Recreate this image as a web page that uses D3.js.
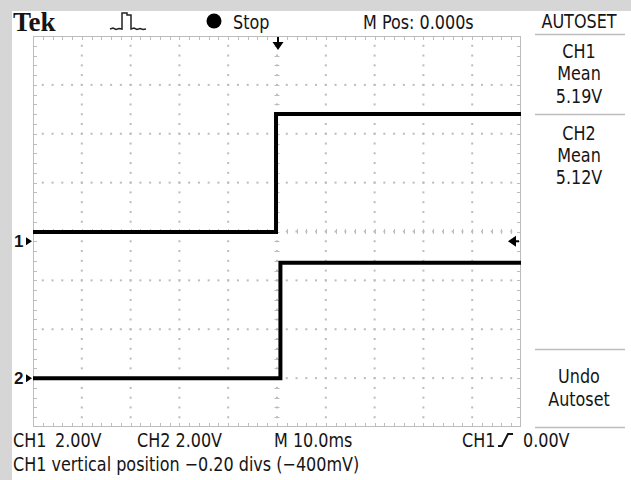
<!DOCTYPE html>
<html><head><meta charset="utf-8">
<script src="https://cdn.jsdelivr.net/npm/d3@7"></script>
<style>
html,body{margin:0;padding:0;background:#fff;}
svg{display:block;}
text{font-family:"DejaVu Sans",sans-serif;fill:#151515;}
</style></head><body>
<svg id="c" width="631" height="480"></svg>
<script>
// ---------- data ----------
const timeDomainMs = [-50, 50];            // 10 div x 10.0 ms, trigger at centre
const voltDivDomain = [-4, 4];             // 8 vertical divisions
const ch1Times = [-50, -0.2, -0.2, 50];    // ms
const ch1Volts = [0.38, 0.38, 5.21, 5.21]; // V
const ch2Times = [-50, 0.7, 0.7, 50];
const ch2Volts = [0.0, 0.0, 4.72, 4.72];
const chVoltsPerDiv = [2.0, 2.0];
const chPositionDiv = [-0.20, -3.0];
const triggerLevelV = 0.0;
const topLabels = ["Stop", "M Pos: 0.000s"];
const panelLabels = [["AUTOSET"], ["CH1", "Mean", "5.19V"], ["CH2", "Mean", "5.12V"], ["Undo", "Autoset"]];
const bottomLabels = ["CH1", "2.00V", "CH2 2.00V", "M 10.0ms", "CH1", "0.00V"];
const statusLine = "CH1 vertical position \u22120.20 divs (\u2212400mV)";

// ---------- layout ----------
const svg = d3.select("#c");
const gx0 = 33, gx1 = 521, gy0 = 36, gy1 = 427;
const x = d3.scaleLinear().domain(timeDomainMs).range([gx0, gx1]);
const yDiv = d3.scaleLinear().domain(voltDivDomain).range([gy1, gy0]);
const yCh = i => v => yDiv(v / chVoltsPerDiv[i] + chPositionDiv[i]);
const divW = (gx1 - gx0) / 10, divH = (gy1 - gy0) / 8;
const cond = 0.80; // horizontal condensing of the scope font

function label(s, xx, yy, anchor, size) {
  return svg.append("text")
    .attr("transform", `translate(${xx},${yy}) scale(${cond},1)`)
    .attr("text-anchor", anchor || "start")
    .attr("font-size", size || 20)
    .text(s);
}

// background (grey margin of the photo)
svg.append("rect").attr("width", 631).attr("height", 480).attr("fill", "#d6d6d6");
svg.append("rect").attr("x", 12).attr("y", 11).attr("width", 619).attr("height", 469).attr("fill", "#fff");

// ---------- graticule ----------
const grid = svg.append("g").attr("fill", "#bcbcbc").attr("stroke", "none");
const gridCol = "#bdbdbd";
for (let i = 1; i < 10; i++) {
  const xx = gx0 + i * divW;
  for (let k = 1; k < 40; k++) {
    grid.append("rect").attr("x", xx - 1).attr("y", gy0 + k * divH / 5 - 1).attr("width", 2).attr("height", 2);
  }
}
for (let j = 1; j < 8; j++) {
  const yy = gy0 + j * divH;
  for (let k = 1; k < 50; k++) {
    grid.append("rect").attr("x", gx0 + k * divW / 5 - 1).attr("y", yy - 1).attr("width", 2).attr("height", 2);
  }
}
const tk = svg.append("g").attr("stroke", gridCol).attr("stroke-width", 1).attr("fill", "none");
tk.append("rect").attr("x", gx0 + 0.5).attr("y", gy0 + 0.5).attr("width", gx1 - gx0 - 1).attr("height", gy1 - gy0 - 1);
const cx = gx0 + 5 * divW, cy = gy0 + 4 * divH;
for (let k = 1; k < 50; k++) {
  const xx = Math.round(gx0 + k * divW / 5) + 0.5;
  tk.append("line").attr("x1", xx).attr("x2", xx).attr("y1", gy0).attr("y2", gy0 + 4);
  tk.append("line").attr("x1", xx).attr("x2", xx).attr("y1", gy1).attr("y2", gy1 - 4);
  tk.append("line").attr("x1", xx).attr("x2", xx).attr("y1", cy - 2.5).attr("y2", cy + 2.5);
}
for (let k = 1; k < 40; k++) {
  const yy = Math.round(gy0 + k * divH / 5) + 0.5;
  tk.append("line").attr("y1", yy).attr("y2", yy).attr("x1", gx0).attr("x2", gx0 + 4);
  tk.append("line").attr("y1", yy).attr("y2", yy).attr("x1", gx1).attr("x2", gx1 - 4);
  tk.append("line").attr("y1", yy).attr("y2", yy).attr("x1", cx - 2.5).attr("x2", cx + 2.5);
}

// ---------- traces ----------
const traces = [[ch1Times, ch1Volts], [ch2Times, ch2Volts]];
traces.forEach(([ts, vs], i) => {
  const yc = yCh(i);
  const line = d3.line().x(d => x(d[0])).y(d => yc(d[1]));
  svg.append("path").datum(ts.map((t, k) => [t, vs[k]]))
    .attr("d", line).attr("fill", "none").attr("stroke", "#000")
    .attr("stroke-width", 4).attr("stroke-linejoin", "miter");
});

// channel ground markers
[0, 1].forEach(i => {
  const yy = yCh(i)(0);
  svg.append("text").attr("x", 14).attr("y", yy + 6).attr("font-size", 17).attr("font-weight", "bold")
    .style("font-family", "Liberation Sans, sans-serif").text(String(i + 1));
  svg.append("path").attr("d", `M${gx0 - 1},${yy} L${gx0 - 7},${yy - 4} L${gx0 - 7},${yy + 4} Z`).attr("fill", "#000");
});

// trigger position arrow (top) and trigger level arrow (right)
const tx = x(0) + 1;
svg.append("path").attr("d", `M${tx},37 L${tx},46`).attr("stroke", "#000").attr("stroke-width", 2);
svg.append("path").attr("d", `M${tx - 5.5},42 L${tx + 5.5},42 L${tx},50 Z`).attr("fill", "#000");
const ty = yCh(0)(triggerLevelV);
svg.append("path").attr("d", `M${gx1 - 2},${ty} L${gx1 - 11},${ty}`).attr("stroke", "#000").attr("stroke-width", 2);
svg.append("path").attr("d", `M${gx1 - 5},${ty - 5.5} L${gx1 - 5},${ty + 5.5} L${gx1 - 13},${ty} Z`).attr("fill", "#000");

// ---------- top bar ----------
svg.append("text").attr("x", 13).attr("y", 31).attr("font-size", 27).attr("font-weight", "bold")
  .style("font-family", "Liberation Serif, serif").attr("fill", "#111").text("Tek");
svg.append("path").attr("d", "M110,29 L113,28 L116,29.5 L119,28.5 L122,29 L122,13 L127,13 L127,15 L131,15 L131,29 L134,28 L137,29.5 L140,28.5 L143,29.5 L146,29")
  .attr("fill", "none").attr("stroke", "#222").attr("stroke-width", 1.5);
svg.append("circle").attr("cx", 214).attr("cy", 21).attr("r", 7.5).attr("fill", "#000");
label(topLabels[0], 233, 29);
label(topLabels[1], 363, 29);

// ---------- right panel ----------
const pcx = 579;
const panelBaselines = [[28], [58, 80, 103], [140, 162, 184], [383, 406]];
panelLabels.forEach((grp, g) => {
  grp.forEach((s, k) => label(s, pcx, panelBaselines[g][k], "middle"));
});
[34, 114, 349, 427].forEach(yy => {
  svg.append("line").attr("x1", 535).attr("x2", 625).attr("y1", yy + 0.5).attr("y2", yy + 0.5)
    .attr("stroke", "#bdbdbd").attr("stroke-width", 1.5);
});

// ---------- bottom bar ----------
const bx = [13, 55, 137, 274, 462, 523];
bottomLabels.forEach((s, k) => label(s, bx[k], 447));
svg.append("path").attr("d", "M498,446 L502,446 L508,434 L513,434")
  .attr("fill", "none").attr("stroke", "#151515").attr("stroke-width", 2);
label(statusLine, 13, 471);
</script></body></html>
